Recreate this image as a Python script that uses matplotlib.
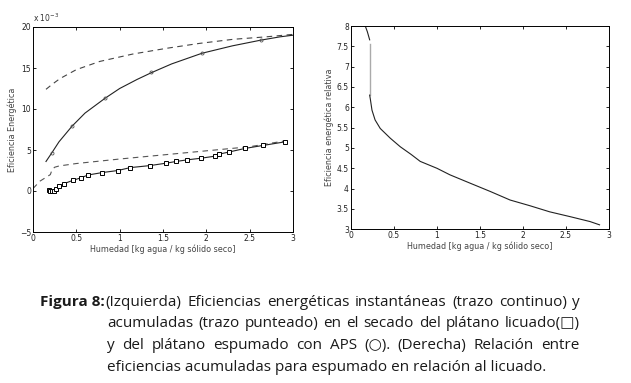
import matplotlib
matplotlib.use("Agg")
import matplotlib.pyplot as plt
import numpy as np

# ---- data (left panel, values x 1e-3) ----
esp_inst_x = [0.15, 0.22, 0.30, 0.45, 0.60, 0.83, 1.00, 1.20, 1.36, 1.60, 1.95, 2.30, 2.63, 2.85, 3.00]
esp_inst_y = [3.6, 4.7, 6.0, 7.9, 9.5, 11.3, 12.5, 13.6, 14.4, 15.5, 16.8, 17.7, 18.4, 18.8, 19.0]
esp_mark_x = [0.22, 0.45, 0.83, 1.36, 1.95, 2.63]
esp_mark_y = [4.6, 7.9, 11.3, 14.5, 16.8, 18.4]

esp_acum_x = [0.15, 0.22, 0.31, 0.50, 0.77, 1.15, 1.54, 1.92, 2.31, 2.69, 3.00]
esp_acum_y = [12.4, 13.0, 13.7, 14.8, 15.8, 16.7, 17.4, 18.0, 18.5, 18.8, 19.1]

liq_acum_x = [0.00, 0.08, 0.20, 0.22, 0.25, 0.30, 0.50, 1.00, 1.50, 2.00, 2.50, 2.90]
liq_acum_y = [0.3, 1.2, 2.0, 2.6, 2.9, 3.05, 3.35, 3.9, 4.4, 4.9, 5.4, 6.1]

liq_x = [0.18, 0.20, 0.22, 0.24, 0.26, 0.30, 0.36, 0.46, 0.55, 0.635, 0.80, 0.98, 1.12, 1.35,
         1.54, 1.65, 1.78, 1.94, 2.10, 2.15, 2.26, 2.45, 2.65, 2.91]
liq_y = [0.15, 0.0, 0.0, 0.05, 0.25, 0.57, 0.9, 1.3, 1.6, 1.95, 2.25, 2.5, 2.85, 3.1,
         3.4, 3.6, 3.8, 4.0, 4.25, 4.5, 4.75, 5.2, 5.55, 6.0]

# ---- data (right panel) ----
rel_x = [0.166, 0.19, 0.217, 0.217, 0.225, 0.244, 0.28, 0.34, 0.457, 0.573, 0.70, 0.805, 1.0, 1.15,
         1.39, 1.62, 1.85, 2.08, 2.31, 2.55, 2.78, 2.89]
rel_y = [8.0, 7.86, 7.66, 6.3, 6.2, 5.93, 5.69, 5.48, 5.24, 5.03, 4.84, 4.67, 4.5, 4.34,
         4.13, 3.93, 3.72, 3.58, 3.43, 3.31, 3.19, 3.11]
gray_x = [0.217, 0.217]
gray_y = [7.55, 6.3]

xticks = [0, 0.5, 1, 1.5, 2, 2.5, 3]
xticklabels = ["0", "0.5", "1", "1.5", "2", "2.5", "3"]
left_yticks = [-5, 0, 5, 10, 15, 20]
right_yticks = [3, 3.5, 4, 4.5, 5, 5.5, 6, 6.5, 7, 7.5, 8]

W, H = 631, 383
fig = plt.figure(figsize=(W / 100, H / 100), dpi=100)
fig.patch.set_facecolor("white")

tick_fs = 5.5
lab_col = "#444444"

def style(ax):
    ax.tick_params(direction="in", length=2.5, width=0.6, labelsize=tick_fs,
                   top=True, right=True, pad=1.5, colors="black", labelcolor="#222222")
    for s in ax.spines.values():
        s.set_linewidth(0.7)

ax1 = fig.add_axes([33 / W, 1 - 232 / H, 260 / W, 205 / H])
ax1.plot(esp_acum_x, esp_acum_y, ls=(0, (5, 4)), color="#444444", lw=0.8)
ax1.plot(liq_acum_x, liq_acum_y, ls=(0, (5, 4)), color="#555555", lw=0.8)
ax1.plot(esp_inst_x, esp_inst_y, color="#222222", lw=0.8)
ax1.plot(esp_mark_x, esp_mark_y, ls="none", marker="o", ms=2.2, mfc="none", mec="#555555", mew=0.6)
ax1.plot(liq_x, liq_y, color="#222222", lw=0.8, marker="s", ms=2.6, mfc="white", mec="black", mew=0.7)
ax1.set_xlim(0, 3)
ax1.set_ylim(-5, 20)
ax1.set_xticks(xticks)
ax1.set_xticklabels(xticklabels)
ax1.set_yticks(left_yticks)
ax1.set_xlabel("Humedad [kg agua / kg sólido seco]", fontsize=5.8, color=lab_col, labelpad=1)
ax1.set_ylabel("Eficiencia Energética", fontsize=5.8, color=lab_col, labelpad=2)
style(ax1)
ax1.text(0.0, 1.015, r"x 10$^{-3}$", transform=ax1.transAxes, fontsize=5.5, color="#333333",
         ha="left", va="bottom")

ax2 = fig.add_axes([351 / W, 1 - 229.3 / H, 258 / W, 203.3 / H])
ax2.plot(rel_x[:3], rel_y[:3], color="#222222", lw=0.8)
ax2.plot(gray_x, gray_y, color="#aaaaaa", lw=1.0)
ax2.plot(rel_x[3:], rel_y[3:], color="#222222", lw=0.8)
ax2.set_xlim(0, 3)
ax2.set_ylim(3, 8)
ax2.set_xticks(xticks)
ax2.set_xticklabels(xticklabels)
ax2.set_yticks(right_yticks)
ax2.set_yticklabels([f"{v:g}" for v in right_yticks])
ax2.set_xlabel("Humedad [kg agua / kg sólido seco]", fontsize=5.8, color=lab_col, labelpad=1)
ax2.set_ylabel("Eficiencia energética relativa", fontsize=5.8, color=lab_col, labelpad=2)
style(ax2)

# ---- caption (justified) ----
fam = ["Open Sans", "DejaVu Sans"]
cap_fs = 11
cap_col = "#1a1a1a"
fig.canvas.draw()
renderer = fig.canvas.get_renderer()

def text_width(s, weight="normal"):
    t = fig.text(0, 0, s, fontsize=cap_fs, family=fam, weight=weight)
    bb = t.get_window_extent(renderer)
    t.remove()
    return bb.width

label = "Figura 8:"
lines = [
    "(Izquierda) Eficiencias energéticas instantáneas (trazo continuo) y",
    "acumuladas (trazo punteado) en el secado del plátano licuado(□)",
    "y del plátano espumado con APS (○). (Derecha) Relación entre",
    "eficiencias acumuladas para espumado en relación al licuado.",
]
x_label = 40
x_text = 107
x_right = 580
ys = [306, 327, 349, 371]

fig.text(x_label / W, 1 - ys[0] / H, label, fontsize=cap_fs, family=fam, weight="bold",
         color=cap_col, va="baseline", ha="left")
lw_label = text_width(label, "bold")
first_start = x_label + lw_label + 1

for i, line in enumerate(lines):
    start = first_start if i == 0 else x_text
    y = 1 - ys[i] / H
    if i == len(lines) - 1:
        fig.text(start / W, y, line, fontsize=cap_fs, family=fam, color=cap_col,
                 va="baseline", ha="left")
        continue
    words = line.split(" ")
    widths = [text_width(w) for w in words]
    gap = (x_right - start - sum(widths)) / (len(words) - 1)
    x = start
    for w, wd in zip(words, widths):
        fig.text(x / W, y, w, fontsize=cap_fs, family=fam, color=cap_col,
                 va="baseline", ha="left")
        x += wd + gap

fig.savefig("out.png", dpi=100, facecolor="white")
